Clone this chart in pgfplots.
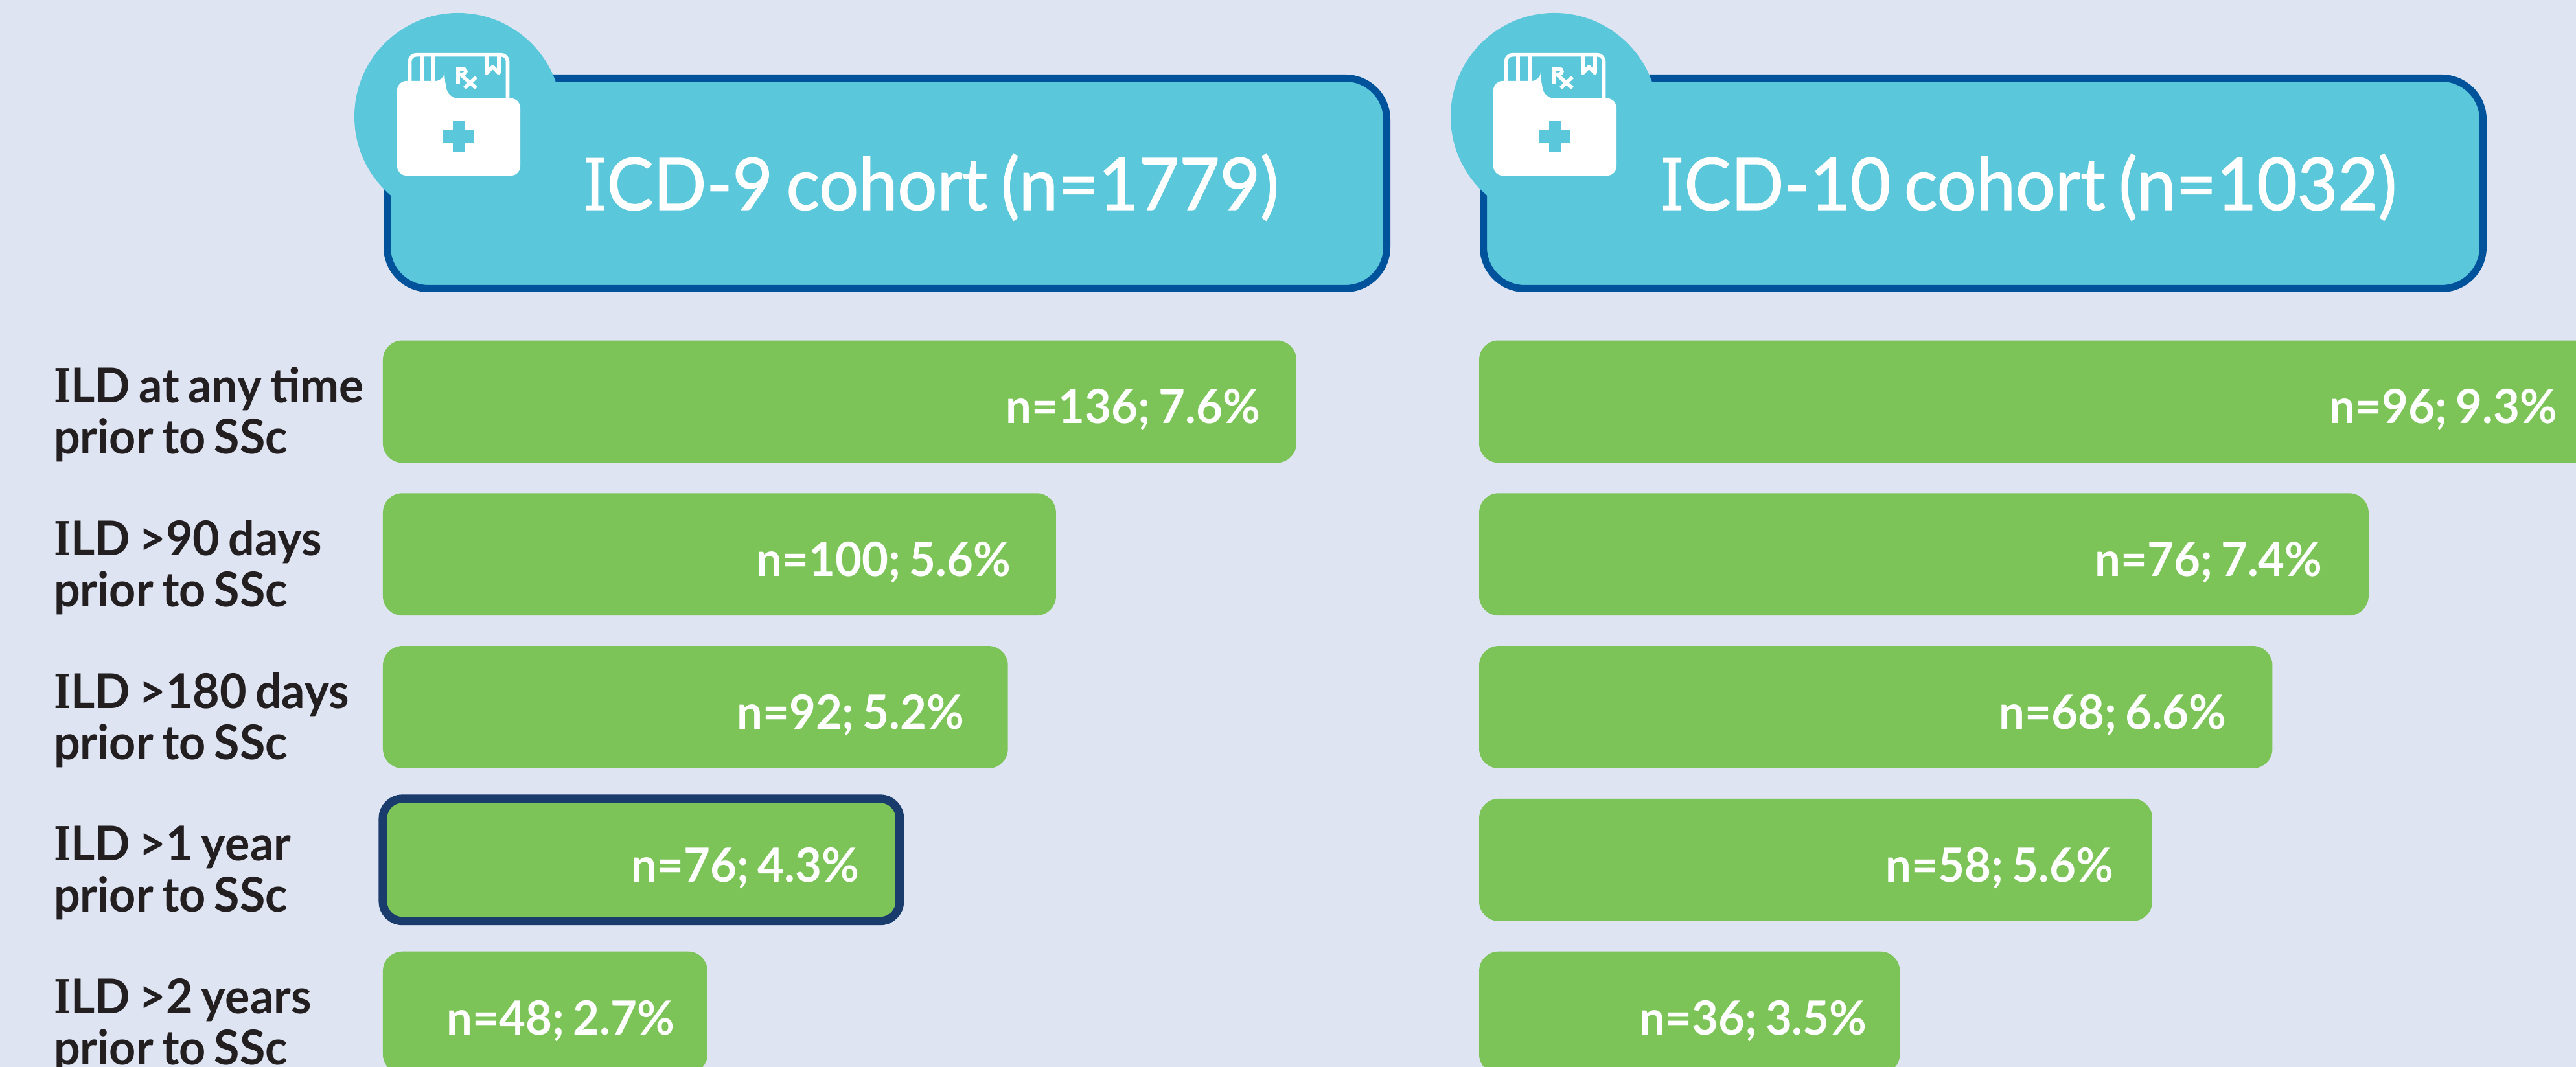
\documentclass[border=0pt]{standalone}
\usepackage{fontspec}
\usepackage{pgfplots}
\usepackage{pgfplotstable}
\pgfplotsset{compat=1.18}
\setmainfont{Lato}[FakeStretch=0.965,WordSpace=0.75,FakeBold=1.3]
\newfontfamily\medfont{Lato Bold}[FakeStretch=0.97,WordSpace=0.75]
\newfontfamily\slabreg[Scale=0.98,FakeStretch=0.85,FakeBold=1.3]{DejaVu Serif}
\newfontfamily\slabbold[Scale=0.98,FakeStretch=0.78]{DejaVu Serif Bold}
\definecolor{bgc}{HTML}{DEE4F2}
\definecolor{boxc}{HTML}{5BC7DA}
\definecolor{edgec}{HTML}{00529B}
\definecolor{barc}{HTML}{7CC458}
\definecolor{hic}{HTML}{193C6D}
\definecolor{inkc}{HTML}{231F20}
% row, share of cohort (%), n, extra gap before the bar's end (pt)
\pgfplotstableread{
row pct n pad
0 7.6 136 1.3
1 5.6 100 4.8
2 5.2 92 4.1
4 2.7 48 0
}\ninemain
\pgfplotstableread{
row pct n pad
3 4.3 76 1.6
}\ninehi
\pgfplotstableread{
row pct n pad
0 9.3 96 2.6
1 7.4 76 5.1
2 6.6 68 5.0
3 5.6 58 2.3
4 3.5 36 0
}\tenmain
\newcommand{\lab}[2]{\parbox{121pt}{\raggedright #1\\#2}}
\newcommand{\header}[3]{%
\begin{scope}[x=.25pt,y=-.25pt,shift={(#1*.25pt,411.75pt)}]
 \draw[fill=boxc,draw=edgec,line width=2.75pt,rounded corners=16pt] (597.5,120.5) rectangle (2140.5,445.5);
 \fill[boxc] (707,180) circle[radius=160];
 \begin{scope}[white]
 \draw[line width=1.4pt,rounded corners=2.5pt] (632.5,127)--(632.5,84.7)--(783.5,84.7)--(783.5,154);
 \draw[line width=1.4pt] (651,84.7)--(651,127) (669,84.7)--(669,127);
 \draw[line width=1.4pt,line join=round] (751,84.7)--(751,113)--(760.5,103)--(770,113)--(770,84.7);
 \fill[rounded corners=3.5pt] (613,271)--(613,125)--(686,125)--(686,125)--(693,152)--(803,152)--(803,271)--cycle;
 \draw[line width=1.4pt] (707,129.5)--(707,106)--(714.6,106) arc[start angle=-90,end angle=90,radius=4.3]--(707,114.6);
 \draw[line width=1.4pt] (711,115)--(735,136) (735,119)--(717,136);
 \end{scope}
 \fill[boxc] (698.6,186.8) rectangle (717.3,234.2);
 \fill[boxc] (684,201) rectangle (732,220);
\end{scope}
\node[anchor=base west,inner sep=0pt,text=white,font=\fontsize{27.9}{30}\selectfont]
   at ({#3*.25pt},{(1647-324)*.25pt}) {#2};
}
\pgfplotsset{
 chartpanel/.style={
  scale only axis,
  width=463.8pt,
  height=294.75pt,
  xmin=0,xmax=10,
  ymin=-0.5,ymax=4.5,
  y dir=reverse,
  axis line style={draw=none},
  xtick=\empty,
  tick style={draw=none},
  clip=false,
  xbar,
  bar shift=0pt,
  bar width=47.2pt,
  /pgf/number format/assume math mode=true,
  anchor=south west,
  point meta=x,
  nodes near coords={n=\pgfmathprintnumber[fixed,precision=0]{\nval}; \pgfmathprintnumber[fixed,fixed zerofill,precision=1]{\pgfplotspointmeta}\%\kern\padval pt},
  every node near coord/.append style={anchor=base east,inner sep=0pt,xshift=-12.5pt,yshift=-8.5pt,text=white,font=\medfont\fontsize{18.2}{20}\selectfont},
 },
 barstyle/.style={fill=barc,draw=none,rounded corners=7.5pt,
  visualization depends on={\thisrow{n} \as \nval},
  visualization depends on={\thisrow{pad} \as \padval}},
}
\begin{document}
\begin{tikzpicture}
\path[use as bounding box] (0,0) rectangle (994pt,411.75pt);
\clip (0,0) rectangle (994pt,411.75pt);
\fill[bgc] (0,0) rectangle (994pt,411.75pt);
\header{0}{{\slabreg I}CD-9 cohort (n=1779)}{899}
\header{1692}{{\slabreg I}CD-10 cohort (n=1032)}{2562}
\begin{axis}[chartpanel,at={(147.75pt,-8.5pt)},
  ytick={0,1,2,3,4},
  yticklabels={
   {\lab{{\slabbold I}LD at any time}{prior to SSc}},
   {\lab{{\slabbold I}LD >90 days}{prior to SSc}},
   {\lab{{\slabbold I}LD >180 days}{prior to SSc}},
   {\lab{{\slabbold I}LD >1 year}{prior to SSc}},
   {\lab{{\slabbold I}LD >2 years}{prior to SSc}}},
  yticklabel style={anchor=east,inner sep=0pt,xshift=-1.5pt,yshift=-5pt,text=inkc,font=\medfont\fontsize{18.5}{19.75}\selectfont},
 ]
 \addplot[barstyle] table[x=pct,y=row] {\ninemain};
 \addplot[barstyle,draw=hic,line width=3.25pt] table[x=pct,y=row] {\ninehi};
\end{axis}
\begin{axis}[chartpanel,at={(570.75pt,-8.5pt)},ytick=\empty]
 \addplot[barstyle] table[x=pct,y=row] {\tenmain};
\end{axis}
\end{tikzpicture}
\end{document}
